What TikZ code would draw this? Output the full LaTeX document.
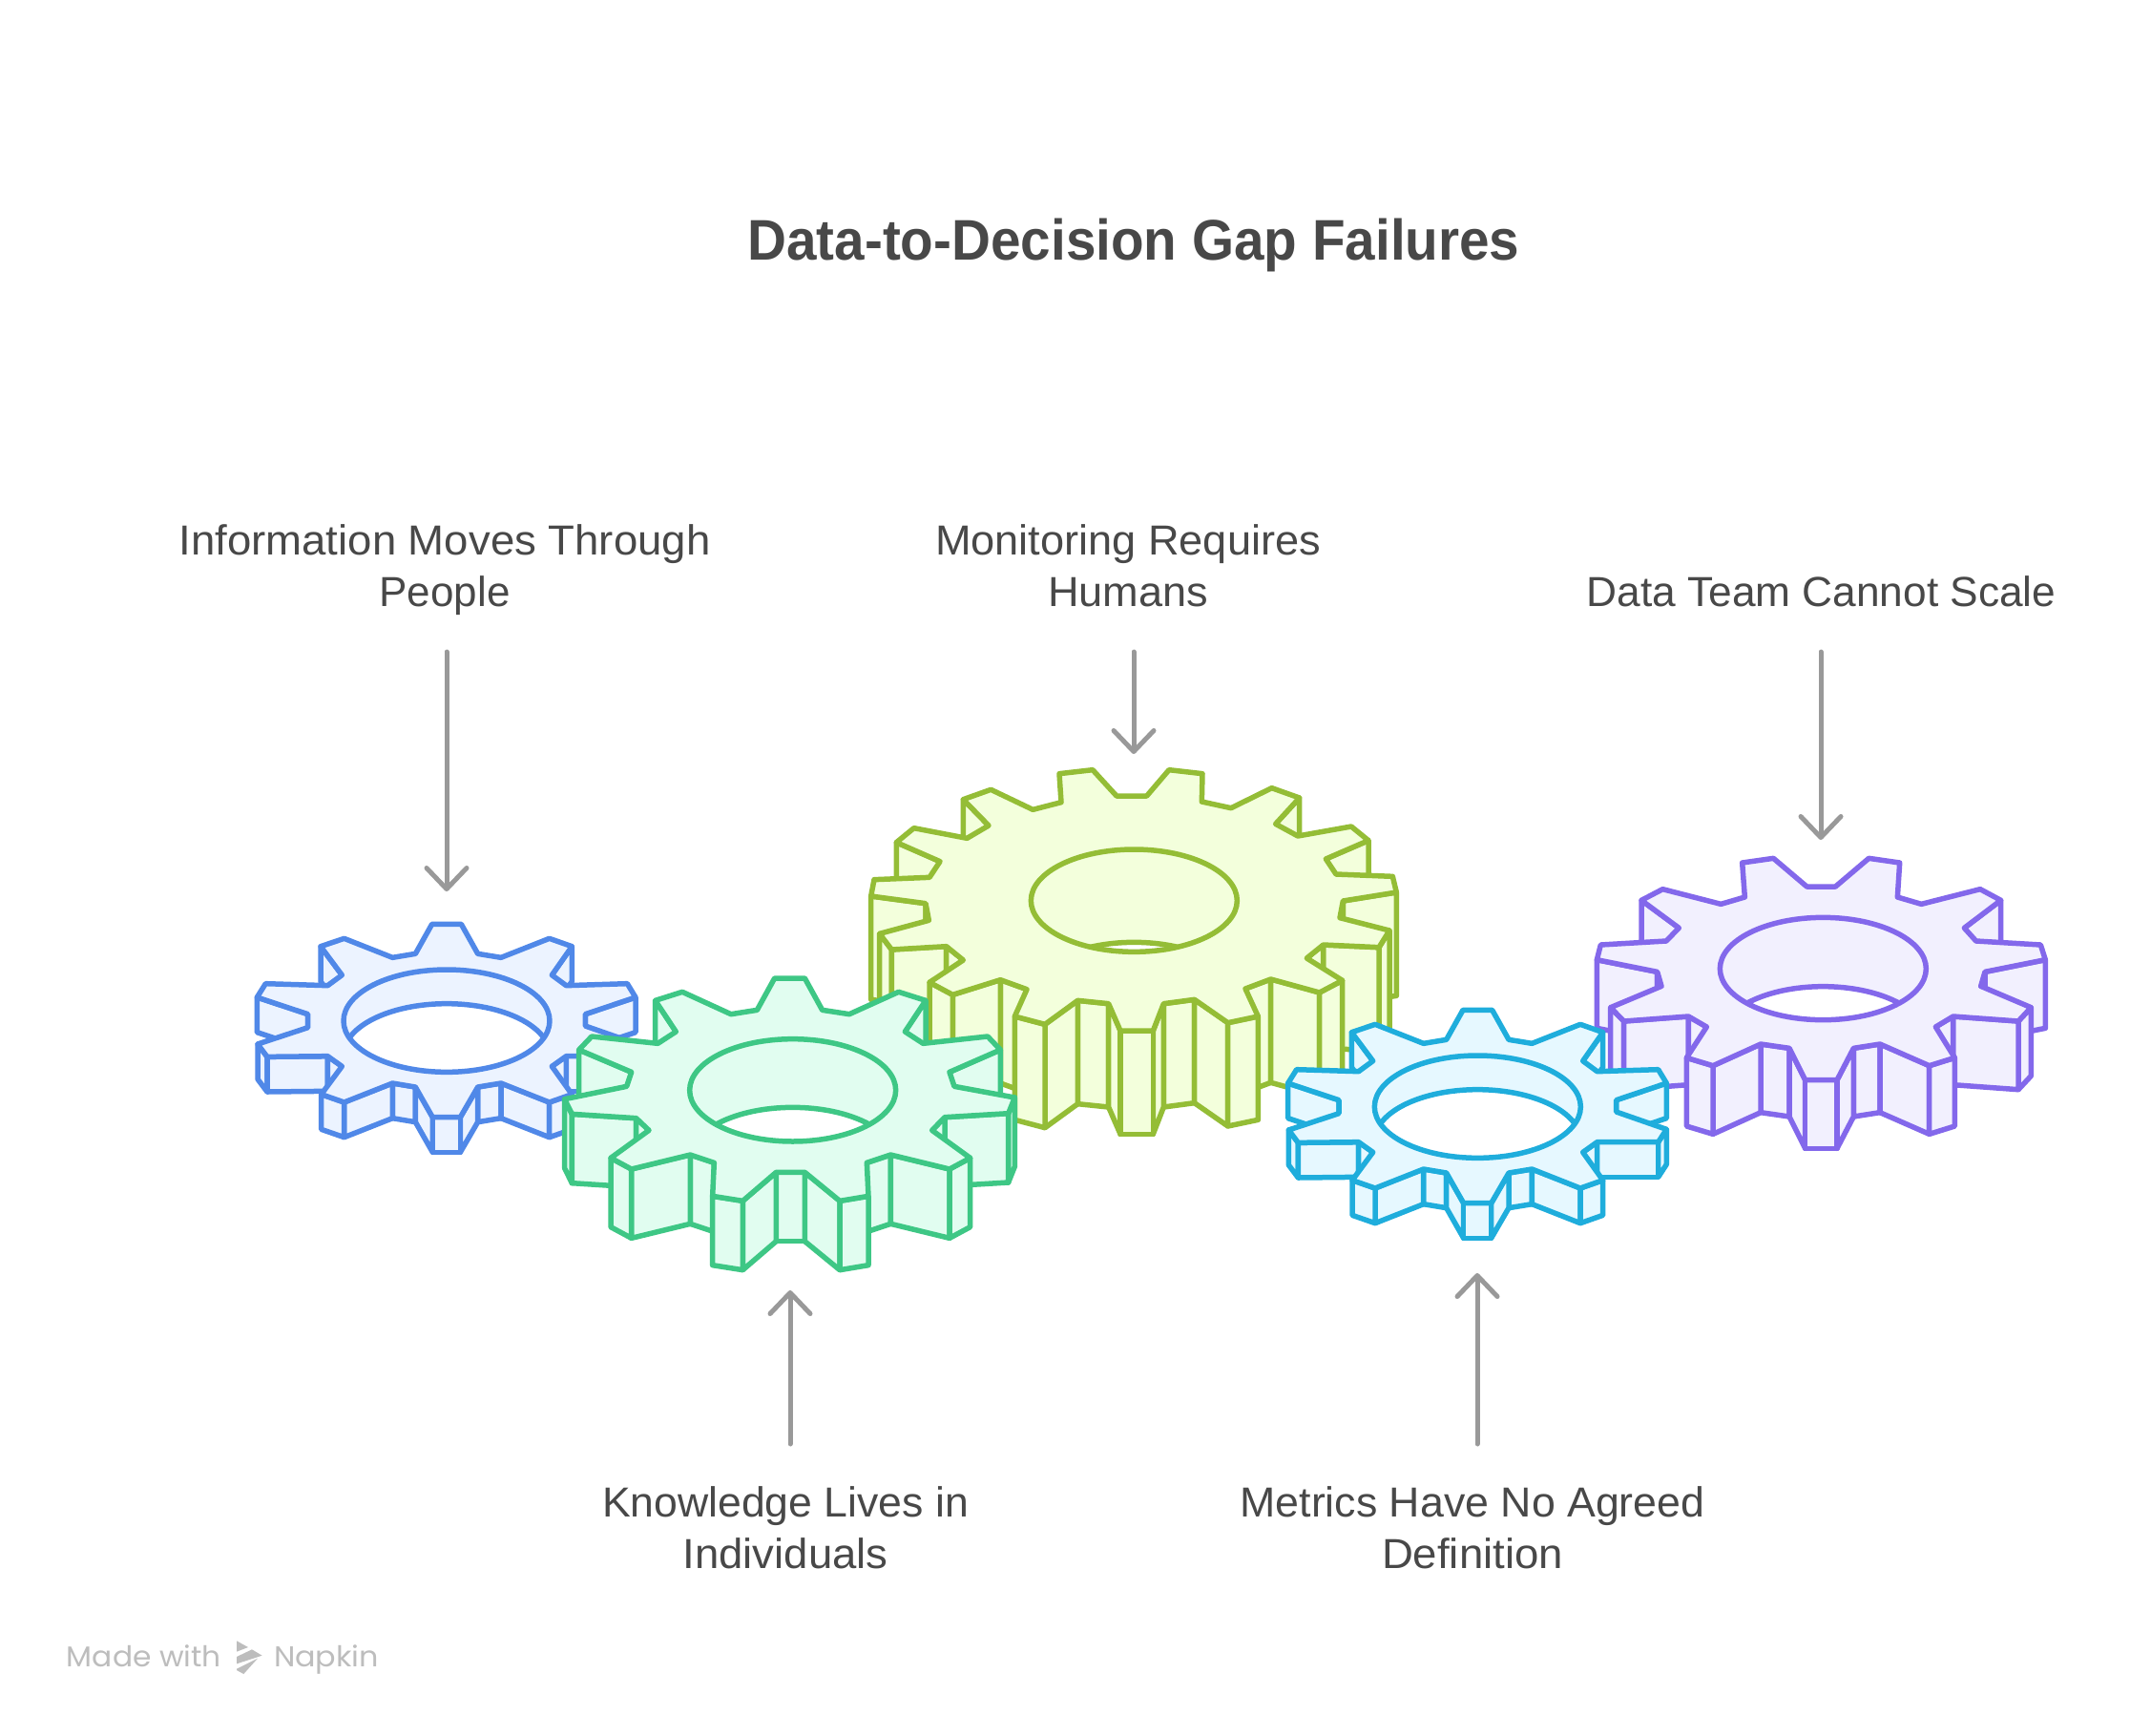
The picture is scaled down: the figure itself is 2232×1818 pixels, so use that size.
\documentclass[tikz,border=0pt]{standalone}
\usepackage{fontspec}
\usepackage{graphicx}
\setmainfont{Liberation Sans}
\newfontfamily\footfont{Poppins}
\usetikzlibrary{arrows.meta}
\definecolor{txt}{HTML}{484848}
\definecolor{arrowgrey}{HTML}{999999}
\definecolor{footgrey}{HTML}{BDBDBD}
\definecolor{cblue}{HTML}{5088E8}\definecolor{cbluef}{HTML}{ECF3FF}
\definecolor{cteal}{HTML}{3EC785}\definecolor{ctealf}{HTML}{E1FDF0}
\definecolor{colive}{HTML}{94BD36}\definecolor{colivef}{HTML}{F3FFDC}
\definecolor{ccyan}{HTML}{1FADDC}\definecolor{ccyanf}{HTML}{E6F8FF}
\definecolor{cpurple}{HTML}{8368EB}\definecolor{cpurplef}{HTML}{F2F0FE}
\tikzset{
  gearblue/.style={draw=cblue,fill=cbluef,line width=5.5pt,line join=round},
  gearteal/.style={draw=cteal,fill=ctealf,line width=5.5pt,line join=round},
  gearolive/.style={draw=colive,fill=colivef,line width=5.5pt,line join=round},
  gearcyan/.style={draw=ccyan,fill=ccyanf,line width=5.5pt,line join=round},
  gearpurple/.style={draw=cpurple,fill=cpurplef,line width=5.5pt,line join=round},
  lbl/.style={font=\fontsize{44}{53.4}\selectfont,text=txt,inner sep=0pt,align=center,anchor=base},
  ttl/.style={font=\fontsize{60}{72}\selectfont\bfseries,text=txt,inner sep=0pt,anchor=base},
  foot/.style={font=\fontsize{30}{36}\selectfont\footfont,text=footgrey,inner sep=0pt,anchor=base},
  arr/.style={draw=arrowgrey,line width=5pt,line cap=round,-{Straight Barb[length=22pt,width=42pt,round]}},
}
\newcommand{\fitw}[2]{\resizebox{#1pt}{\height}{#2}}
% #1 offset, #2 style, #3 wall depth, #4 hole depth, #5 hole centre x, #6 hole centre y,
% #7 point count, #8 points macro, #9 front walls macro, back to front
\newcommand{\gearshape}[9]{%
  \begin{scope}[shift={(#1)},x=0.33333pt,y=-0.33333pt]
    \foreach \px/\py [count=\pn] in #8 {
      \coordinate (g\pn) at (\px,\py);
      \coordinate (h\pn) at (\px,\py+#3);
    }
    \foreach \wa in #9 {
      \pgfmathtruncatemacro{\wb}{mod(\wa,#7)+1}
      \draw[#2] (g\wa) -- (g\wb) -- (h\wb) -- (h\wa) -- cycle;
    }
    \draw[#2] (g1) \foreach \wa in {2,...,#7} { -- (g\wa) } -- cycle;
    \begin{scope}
      \clip (#5,#6) ellipse [x radius=324,y radius=161];
      \fill[white] (#5,#6+#4) ellipse [x radius=324,y radius=161];
      \draw[#2,fill=none] (#5,#6+#4) ellipse [x radius=324,y radius=161];
    \end{scope}
    \draw[#2,fill=none] (#5,#6) ellipse [x radius=324,y radius=161];
  \end{scope}%
}
\newcommand{\smallpts}{608/85,700/85,752/178,825/190,977/130,1048/155,985/245,1030/278,1222/272,1248/315,1090/368,1090/405,1248/460,1222/500,1030/500,985/532,1048/620,977/645,825/585,752/597,697/692,610/692,556/597,484/585,332/645,260/620,325/532,280/500,90/502,60/462,218/410,218/368,58/315,85/272,280/278,325/245,258/155,332/130,484/190,556/178}
\newcommand{\smallorder}{6,36,10,32,13,29,14,28,15,27,19,23,18,24,17,25,20,22,21}
\newcommand{\tealpts}{695/45,790/45,845/145,930/158,1085/88,1170/115,1105/213,1162/250,1365/228,1405/270,1245/340,1260/385,1450/420,1430/470,1230/482,1190/523,1310/610,1245/645,1060/600,985/625,990/730,900/745,790/655,700/655,595/745,500/730,505/625,430/600,245/645,180/610,300/523,260/485,58/472,35/425,230/385,245/340,80/270,120/228,328/250,385/213,320/115,405/88,558/158,640/145}
\newcommand{\tealorder}{6,40,10,36,13,33,14,32,15,31,19,27,18,28,17,29,23,22,24,21,25}
\newcommand{\olivepts}{810/132,905/132,975/50,1080/62,1078/150,1170/170,1298/107,1385/138,1310/220,1380/258,1548/228,1602/272,1468/330,1500/378,1678/385,1690/435,1522/462,1512/515,1668/555,1635/608,1460/600,1408/642,1520/712,1448/750,1295/708,1215/738,1255/825,1160/845,1055/772,958/785,925/870,822/870,785/785,688/775,585/850,490/825,528/740,445/710,295/757,222/718,328/648,275/605,103/615,65/565,220/523,210/470,38/447,48/395,222/388,255/338,118/278,173/233,340/265,408/225,328/143,415/112,547/175,636/152,630/62,735/50}
\newcommand{\oliveorder}{8,54,12,50,16,46,17,45,19,43,20,42,21,41,25,37,24,38,23,39,33,29,34,28,30,32,27,35,31}
\newcommand{\purplepts}{700/117,790/117,895/28,992/42,985/150,1060/172,1245/125,1310/160,1195/247,1232/288,1435/300,1450/347,1260/385,1247/430,1405/497,1365/540,1160/525,1105/558,1165/655,1085/680,930/612,847/625,795/725,695/725,645/625,555/612,405/680,322/655,385/558,328/525,125/540,83/497,243/430,230/385,40/347,52/300,258/288,298/247,180/160,247/125,430/172,505/150,497/42,595/28}
\newcommand{\purpleorder}{8,38,12,34,13,33,15,31,16,30,17,29,21,25,20,26,19,27,22,24,23}
\begin{document}
\begin{tikzpicture}[x=1pt,y=-1pt]
\useasboundingbox (0,0) rectangle (2232,1818);
\fill[white] (0,0) rectangle (2232,1818);

\gearshape{250,940}{gearblue}{110}{107}{654}{389}{40}{\smallpts}{\smallorder}
\gearshape{900,790}{gearolive}{325}{292}{865}{461}{60}{\olivepts}{\oliveorder}
\gearshape{1660,890}{gearpurple}{215}{217}{751}{375}{44}{\purplepts}{\purpleorder}
\gearshape{580,1010}{gearteal}{217}{215}{752}{397}{44}{\tealpts}{\tealorder}
\gearshape{1330.33,1030}{gearcyan}{110}{107}{654}{389}{40}{\smallpts}{\smallorder}

\node[ttl] (title) at (1188,272.7) {\fitw{809}{Data-to-Decision Gap Failures}};

\node[lbl] (info) at (466,635) {\fitw{557}{Information Moves Through}\\\fitw{137}{People}};
\node[lbl] (mon) at (1182,635) {\fitw{404}{Monitoring Requires}\\\fitw{168}{Humans}};
\node[lbl] (team) at (1908.5,635) {\fitw{492}{Data Team Cannot Scale}};
\node[lbl] (know) at (823,1643) {\fitw{384}{Knowledge Lives in}\\\fitw{215}{Individuals}};
\node[lbl] (metr) at (1543,1643) {\fitw{487}{Metrics Have No Agreed}\\\fitw{190}{Definition}};

\coordinate (a1s) at (468,683); \coordinate (a1e) at (468,934);
\coordinate (a2s) at (1188,683); \coordinate (a2e) at (1188,790);
\coordinate (a3s) at (1908,683); \coordinate (a3e) at (1908,880);
\coordinate (a4s) at (828,1513); \coordinate (a4e) at (828,1352);
\coordinate (a5s) at (1548,1513); \coordinate (a5e) at (1548,1334);
\draw[arr] (a1s) -- (a1e);
\draw[arr] (a2s) -- (a2e);
\draw[arr] (a3s) -- (a3e);
\draw[arr] (a4s) -- (a4e);
\draw[arr] (a5s) -- (a5e);

\node[foot] (made) at (151,1746) {\fitw{162}{Made with}};
\node[foot] (napkin) at (342,1746) {\fitw{110}{Napkin}};
\begin{scope}[shift={(50,1700)},x=0.33333pt,y=-0.33333pt]
  \fill[footgrey] (594,58) -- (630,78) -- (594,92) -- cycle;
  \fill[footgrey] (594,108) -- (642,85) -- (674,104) -- (594,130) -- cycle;
  \fill[footgrey] (594,146) -- (660,113) -- (616,162) -- (594,150) -- cycle;
\end{scope}
\end{tikzpicture}
\end{document}
